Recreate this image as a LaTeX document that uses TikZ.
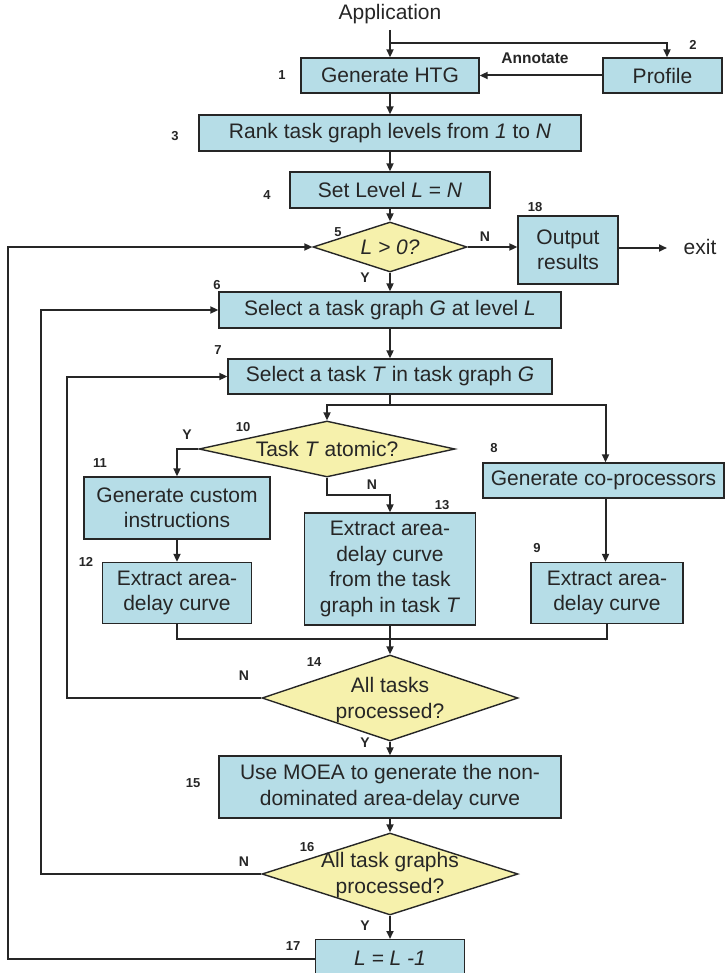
\documentclass[tikz,border=0pt]{standalone}
\usepackage{fontspec}
\setmainfont{Liberation Sans}
\usetikzlibrary{shapes.geometric,arrows.meta}

\definecolor{boxfill}{RGB}{182,221,231}
\definecolor{decfill}{RGB}{246,241,172}
\definecolor{ink}{RGB}{38,38,38}

\tikzset{
  txt/.style={font=\fontsize{21}{25.5}\selectfont, text=ink},
  box/.style={txt, draw=ink, line width=1.4pt, fill=boxfill, inner sep=0pt, align=center},
  dec/.style={diamond, draw=ink, line width=1.4pt, fill=decfill, inner sep=0pt},
  dtext/.style={txt, inner sep=0pt, align=center},
  num/.style={font=\fontsize{13}{13}\selectfont\bfseries, text=ink, inner sep=0pt},
  yn/.style={font=\fontsize{14}{14}\selectfont\bfseries, text=ink, inner sep=0pt},
  flow/.style={draw=ink, line width=2pt, line join=miter},
  arr/.style={flow, -{Triangle[length=8pt,width=7pt]}},
}

\begin{document}
\begin{tikzpicture}[x=1pt, y=-1pt]
\useasboundingbox (0,0) rectangle (724,973);

% ---- process boxes ----
\node[box, minimum width=178pt, minimum height=35pt] (n1) at (390,75.5) {Generate HTG};
\node[box, minimum width=119pt, minimum height=35pt] (n2) at (662.5,75.5) {Profile};
\node[box, minimum width=382pt, minimum height=36pt] (n3) at (390,133) {Rank task graph levels from \textit{1} to \textit{N}};
\node[box, minimum width=200pt, minimum height=36pt] (n4) at (390,190) {Set Level \textit{L} = \textit{N}};
\node[box, minimum width=100pt, minimum height=68pt] (o18) at (568,250) {Output\\results};
\node[box, minimum width=342pt, minimum height=36pt] (n6) at (390,310) {Select a task graph \textit{G} at level \textit{L}};
\node[box, minimum width=324pt, minimum height=35pt] (n7) at (390,376.5) {Select a task \textit{T} in task graph \textit{G}};
\node[box, minimum width=241pt, minimum height=35pt] (n8) at (603.5,480.5) {Generate co-processors};
\node[box, minimum width=186pt, minimum height=62pt] (n11) at (177,508) {Generate custom\\instructions};
\node[box, minimum width=149pt, minimum height=61pt] (n12) at (177,593) {Extract area-\\delay curve};
\node[box, minimum width=171pt, minimum height=112pt] (n13) at (390,569) {Extract area-\\delay curve\\from the task\\graph in task \textit{T}};
\node[box, minimum width=152pt, minimum height=61pt] (n9) at (607,593) {Extract area-\\delay curve};
\node[box, minimum width=342pt, minimum height=62pt] (n15) at (390,787) {Use MOEA to generate the non-\\dominated area-delay curve};
\node[box, minimum width=149pt, minimum height=38pt, anchor=north] (n17) at (390,939) {\textit{L = L -1}};

% ---- decisions ----
\node[dec, minimum width=154pt, minimum height=50pt] (d5) at (390,247) {};
\node[dtext] (d5t) at (390,247) {\textit{L > 0?}};
\node[dec, minimum width=256pt, minimum height=56pt] (d10) at (327,449) {};
\node[dtext] (d10t) at (327,449) {Task \textit{T} atomic?};
\node[dec, minimum width=256pt, minimum height=86pt] (d14) at (390,698) {};
\node[dtext] (d14t) at (390,700) {All tasks\\processed?};
\node[dec, minimum width=256pt, minimum height=82pt] (d16) at (390,874) {};
\node[dtext] (d16t) at (390,875) {All task graphs\\processed?};

% ---- free texts ----
\node[txt, inner sep=6pt] (app) at (390,14) {Application};
\node[txt, inner sep=0pt] (exitlbl) at (700,247) {exit};
\node[font=\fontsize{15.5}{15.5}\selectfont\bfseries, text=ink, inner sep=0pt] (ann) at (535,58) {Annotate};

% ---- step numbers ----
\node[num] (k1) at (282,75) {1};
\node[num] (k2) at (693,45) {2};
\node[num] (k3) at (175,136) {3};
\node[num] (k4) at (267,195) {4};
\node[num] (k5) at (338,232) {5};
\node[num] (k18) at (535,207) {18};
\node[num] (k6) at (217,285) {6};
\node[num] (k7) at (218,350) {7};
\node[num] (k10) at (243,427) {10};
\node[num] (k8) at (494,448) {8};
\node[num] (k11) at (100,463) {11};
\node[num] (k12) at (86,562) {12};
\node[num] (k13) at (442,505) {13};
\node[num] (k9) at (537,548) {9};
\node[num] (k14) at (314,662) {14};
\node[num] (k15) at (193,783) {15};
\node[num] (k16) at (307,847) {16};
\node[num] (k17) at (293,946) {17};

% ---- Y / N marks ----
\node[yn] (y5) at (365,278) {Y};
\node[yn] (no5) at (485,237) {N};
\node[yn] (y10) at (187,435) {Y};
\node[yn] (no10) at (372,485) {N};
\node[yn] (no14) at (244,676) {N};
\node[yn] (y14) at (365,743) {Y};
\node[yn] (no16) at (244,862) {N};
\node[yn] (y16) at (365,926) {Y};

% ---- helper coordinates ----
\coordinate (j0) at (390,43);
\coordinate (j7) at (390,405);
\coordinate (jb) at (390,639);
\coordinate (xend) at (667,248);
\coordinate (loopL) at (7.5,0);
\coordinate (loopG) at (41,0);
\coordinate (loopT) at (67,0);

% ---- connectors ----
\draw[arr] (app.south) -- (n1.north);
\draw[arr] (j0) -| ([xshift=4.5pt]n2.north);
\draw[arr] (n2.west) -- (n1.east);
\draw[arr] (n1.south) -- (n3.north);
\draw[arr] (n3.south) -- (n4.north);
\draw[arr] (n4.south) -- (d5.north);
\draw[arr] (d5.east) -- (d5.east -| o18.west);
\draw[arr] (o18.east |- xend) -- (xend);
\draw[arr] (d5.south) -- (n6.north);
\draw[arr] (n6.south) -- (n7.north);
\draw[flow] (n7.south) -- (j7);
\draw[arr] (j7) -| (d10.north);
\draw[arr] (j7) -| ([xshift=2pt]n8.north);
\draw[arr] (d10.west) -| (n11.north);
\draw[arr] (n11.south) -- (n12.north);
\draw[arr] (d10.south) -- ++(0,17) -| (n13.north);
\draw[arr] ([xshift=2pt]n8.south) -- ([xshift=2pt]n8.south |- n9.north);
\draw[flow] (n12.south) |- (jb);
\draw[flow] (n9.south) |- (jb);
\draw[arr] (n13.south) -- (d14.north);
\draw[arr] (d14.west) -| (loopT |- n7.west) -- (n7.west);
\draw[arr] (d14.south) -- (n15.north);
\draw[arr] (n15.south) -- (d16.north);
\draw[arr] (d16.west) -| (loopG |- n6.west) -- (n6.west);
\draw[arr] (d16.south) -- (n17.north);
\draw[arr] (n17.west) -| (loopL |- d5.west) -- (d5.west);
\end{tikzpicture}
\end{document}
